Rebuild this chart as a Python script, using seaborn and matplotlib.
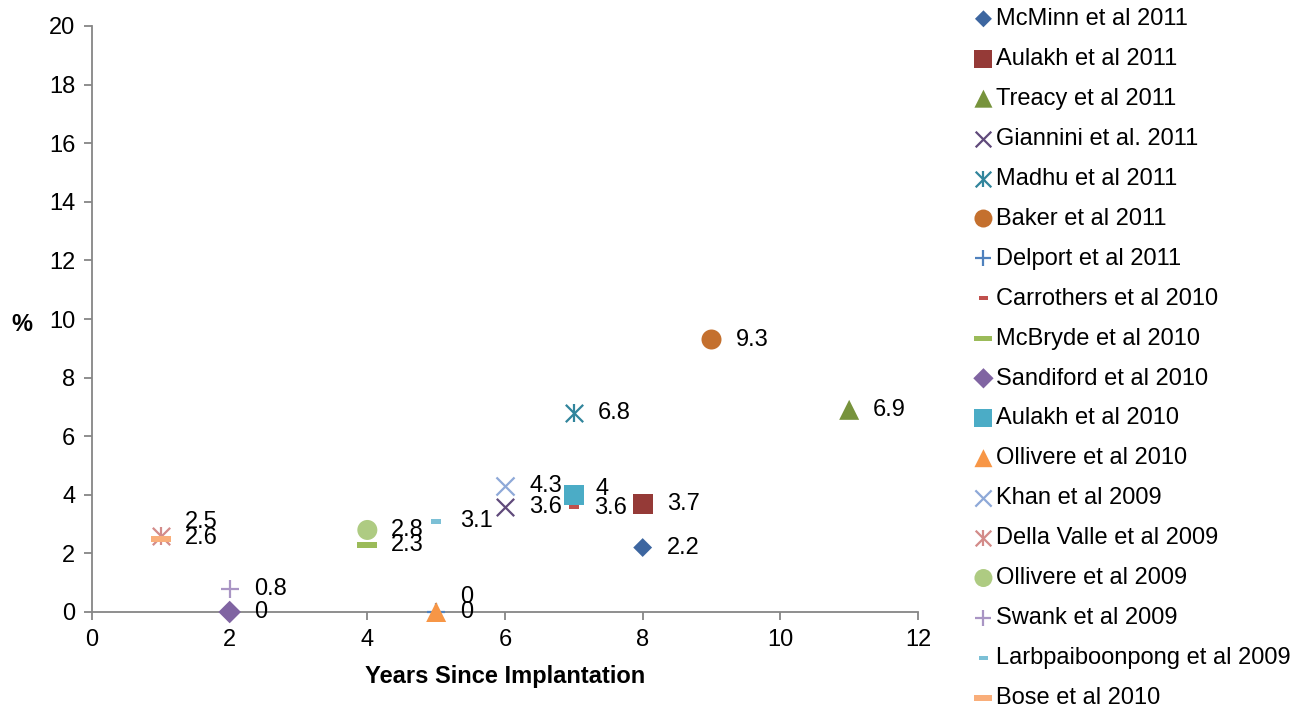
import matplotlib
matplotlib.use("Agg")
import matplotlib.pyplot as plt
from matplotlib.legend_handler import HandlerTuple
import seaborn as sns
import numpy as np

# ---- data ----
studies = ["McMinn et al 2011", "Aulakh et al 2011", "Treacy et al 2011", "Giannini et al. 2011",
           "Madhu et al 2011", "Baker et al 2011", "Delport et al 2011", "Carrothers et al 2010",
           "McBryde et al 2010", "Sandiford et al 2010", "Aulakh et al 2010", "Ollivere et al 2010",
           "Khan et al 2009", "Della Valle et al 2009", "Ollivere et al 2009", "Swank et al 2009",
           "Larbpaiboonpong et al 2009", "Bose et al 2010"]
years = [8, 8, 11, 6, 7, 9, 5, 7, 4, 2, 7, 5, 6, 1, 4, 2, 5, 1]
rates = [2.2, 3.7, 6.9, 3.6, 6.8, 9.3, 0, 3.6, 2.3, 0, 4.0, 0, 4.3, 2.6, 2.8, 0.8, 3.1, 2.5]
point_labels = ["2.2", "3.7", "6.9", "3.6", "6.8", "9.3", "0", "3.6", "2.3", "0", "4", "0",
                "4.3", "2.6", "2.8", "0.8", "3.1", "2.5"]

# ---- styles ----
colors = ["#3D66A0", "#953A37", "#77933C", "#604A7B", "#31859C", "#C4702E",
          "#4F81BD", "#C0504D", "#9BBB59", "#8064A2", "#4BACC6", "#F79646",
          "#8EA9D8", "#D38B89", "#AECB82", "#A995C4", "#7CC0D6", "#F9AE7A"]
short_dash = [(-1, -0.45), (1, -0.45), (1, 0.45), (-1, 0.45), (-1, -0.45)]
long_bar = [(-1, -0.3), (1, -0.3), (1, 0.3), (-1, 0.3), (-1, -0.3)]
markers = ["D", "s", "^", "x", "star", "o",
           "+", short_dash, long_bar, "D", "s", "^",
           "x", "star", "o", "+", short_dash, long_bar]
sizes_pt = [9.6, 14.4, 14.4, 12.5, 12.5, 14.4,
            13, 7.2, 14.4, 11.5, 14.4, 14.4,
            13, 12.5, 14.4, 13, 7.6, 14.4]
# label offsets in pixels (dx, dy)
label_offsets = {"Carrothers et al 2010": (20, -1), "Aulakh et al 2010": (22, 6),
                 "Delport et al 2011": (24, 15), "Bose et al 2010": (24, 17),
                 "Della Valle et al 2009": (24, -2)}

plt.rcParams['font.family'] = ['Liberation Sans', 'DejaVu Sans']
FS = 17

fig = plt.figure(figsize=(13.1, 7.13), dpi=100)
ax = fig.add_axes([92/1310, 1-612/713, (918-92)/1310, (612-26)/713])

legend_handles = []
for i, name in enumerate(studies):
    m = markers[i]
    common = dict(x=[years[i]], y=[rates[i]], s=sizes_pt[i] ** 2, ax=ax,
                  legend=False, zorder=3, clip_on=False)
    if m == "star":
        sns.scatterplot(marker="x", color=colors[i], linewidth=1.6, label=name, **common)
        h1 = ax.collections[-1]
        sns.scatterplot(marker="|", color=colors[i], linewidth=1.6, **common)
        h2 = ax.collections[-1]
        legend_handles.append((h1, h2))
    elif m in ("x", "+"):
        sns.scatterplot(marker=m, color=colors[i], linewidth=1.6, label=name, **common)
        legend_handles.append(ax.collections[-1])
    else:
        sns.scatterplot(marker=m, color=colors[i], edgecolor="none", linewidth=0,
                        label=name, **common)
        legend_handles.append(ax.collections[-1])

for i, name in enumerate(studies):
    dx, dy = label_offsets.get(name, (24, 0))
    ax.annotate(point_labels[i], (years[i], rates[i]), xytext=(dx, dy),
                textcoords="offset pixels", ha="left", va="center", fontsize=FS,
                color="black", zorder=4, annotation_clip=False)

ax.set_xlim(0, 12)
ax.set_ylim(0, 20)
ax.set_xticks(np.arange(0, 13, 2))
ax.set_yticks(np.arange(0, 21, 2))
for side in ("top", "right"):
    ax.spines[side].set_visible(False)
for side in ("left", "bottom"):
    ax.spines[side].set_color("#868686")
    ax.spines[side].set_linewidth(1.3)
ax.tick_params(axis="both", direction="out", length=6, width=1.3, color="#868686",
               labelsize=FS, pad=6)
ax.set_xlabel("Years Since Implantation", fontsize=FS, fontweight="bold", labelpad=10)
ax.set_ylabel("%", fontsize=FS, fontweight="bold", rotation=0, va="center")
ax.yaxis.set_label_coords(-0.085, 0.49)
ax.set_facecolor("white")

leg = ax.legend(legend_handles, studies, loc="upper left",
                bbox_to_anchor=(974/1310, 1 - 8/713),
                bbox_transform=fig.transFigure, frameon=False, fontsize=FS,
                handlelength=0.8, handletextpad=0.15, labelspacing=0.76,
                borderpad=0.0, borderaxespad=0.0, markerscale=0.9,
                handler_map={tuple: HandlerTuple(ndivide=1, pad=0)})

fig.savefig("out.png", dpi=100, facecolor="white")
